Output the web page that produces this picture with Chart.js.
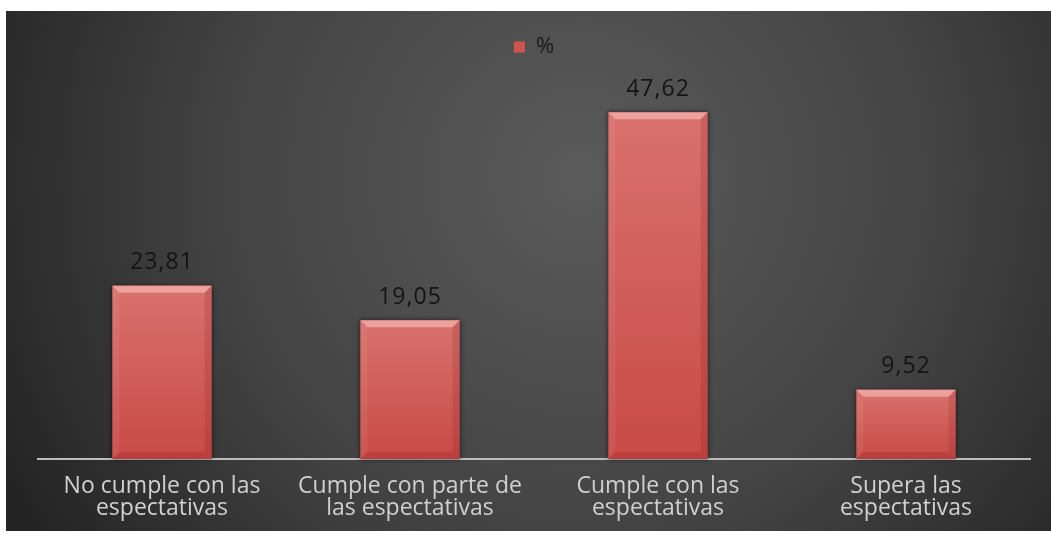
<!DOCTYPE html>
<html>
<head>
<meta charset="utf-8">
<script src="https://cdn.jsdelivr.net/npm/chart.js@4"></script>
<style>
    html, body { margin: 0; padding: 0; background: #ffffff; }
    #wrap { position: absolute; left: 6px; top: 11px; width: 1045px; height: 520px; }
</style>
</head>
<body>
<div id="wrap"><canvas id="barChart"></canvas></div>
<script>
    const categories = [
        ['No cumple con las', 'espectativas'],
        ['Cumple con parte de', 'las espectativas'],
        ['Cumple con las', 'espectativas'],
        ['Supera las', 'espectativas']
    ];
    const percentValues = [23.81, 19.05, 47.62, 9.52];
    const seriesName = '%';

    const fontFamily = "'Open Sans', Lato, sans-serif";

    // Dark radial backdrop behind the whole chart
    const backdrop = {
        id: 'backdrop',
        beforeDraw(chart) {
            const ctx = chart.ctx;
            const w = chart.width, h = chart.height;
            const g = ctx.createRadialGradient(w * 0.55, h * 0.32, 10, w * 0.55, h * 0.32, w * 0.62);
            g.addColorStop(0, '#5a5a5a');
            g.addColorStop(0.55, '#434343');
            g.addColorStop(1, '#242424');
            ctx.save();
            ctx.fillStyle = g;
            ctx.fillRect(0, 0, w, h);
            ctx.restore();
        }
    };

    // Bevelled look on each bar plus the value above it
    const bevelBars = {
        id: 'bevelBars',
        afterDatasetsDraw(chart) {
            const ctx = chart.ctx;
            const meta = chart.getDatasetMeta(0);
            meta.data.forEach(function (bar, i) {
                const left = bar.x - bar.width / 2;
                const right = bar.x + bar.width / 2;
                const top = bar.y;
                const bottom = bar.base;
                const b = 7;
                ctx.save();

                // shadow outline
                ctx.shadowColor = 'rgba(0,0,0,0.6)';
                ctx.shadowBlur = 5;
                const g = ctx.createLinearGradient(0, top, 0, bottom);
                g.addColorStop(0, '#d9716d');
                g.addColorStop(1, '#c84a47');
                ctx.fillStyle = g;
                ctx.fillRect(left, top, right - left, bottom - top);
                ctx.shadowBlur = 0;
                ctx.shadowColor = 'transparent';

                // top bevel
                ctx.fillStyle = 'rgba(255,210,205,0.5)';
                ctx.beginPath();
                ctx.moveTo(left, top);
                ctx.lineTo(right, top);
                ctx.lineTo(right - b, top + b);
                ctx.lineTo(left + b, top + b);
                ctx.closePath();
                ctx.fill();

                // side bevels
                ctx.fillStyle = 'rgba(255,255,255,0.06)';
                ctx.beginPath();
                ctx.moveTo(left, top);
                ctx.lineTo(left + b, top + b);
                ctx.lineTo(left + b, bottom - b);
                ctx.lineTo(left, bottom);
                ctx.closePath();
                ctx.fill();
                ctx.fillStyle = 'rgba(90,0,0,0.12)';
                ctx.beginPath();
                ctx.moveTo(right, top);
                ctx.lineTo(right - b, top + b);
                ctx.lineTo(right - b, bottom - b);
                ctx.lineTo(right, bottom);
                ctx.closePath();
                ctx.fill();

                // bottom bevel
                ctx.fillStyle = 'rgba(120,10,10,0.18)';
                ctx.beginPath();
                ctx.moveTo(left, bottom);
                ctx.lineTo(right, bottom);
                ctx.lineTo(right - b, bottom - b);
                ctx.lineTo(left + b, bottom - b);
                ctx.closePath();
                ctx.fill();

                // value label
                ctx.fillStyle = '#141414';
                ctx.font = '23px ' + fontFamily;
                ctx.letterSpacing = '1px';
                ctx.textAlign = 'center';
                ctx.textBaseline = 'middle';
                const txt = percentValues[i].toFixed(2).replace('.', ',');
                ctx.fillText(txt, bar.x, top - 23);
                ctx.restore();
            });
        }
    };

    // Extra room below the legend
    const legendGap = {
        id: 'legendGap',
        beforeInit(chart) {
            const fit = chart.legend.fit;
            chart.legend.fit = function () {
                fit.bind(chart.legend)();
                this.height += 27;
            };
        }
    };

    const ctx = document.getElementById('barChart').getContext('2d');
    const barChart = new Chart(ctx, {
        type: 'bar',
        data: {
            labels: categories,
            datasets: [{
                label: seriesName,
                data: percentValues,
                backgroundColor: '#d2524f',
                borderWidth: 0,
                barPercentage: 0.5,
                categoryPercentage: 0.8
            }]
        },
        options: {
            responsive: true,
            maintainAspectRatio: false,
            animation: false,
            layout: {
                padding: { top: 15, left: 32, right: 21, bottom: 0 }
            },
            plugins: {
                legend: {
                    position: 'top',
                    labels: {
                        boxWidth: 11,
                        boxHeight: 11,
                        padding: 10,
                        color: '#1a1a1a',
                        font: { family: fontFamily, size: 22 }
                    }
                },
                tooltip: { enabled: false }
            },
            scales: {
                x: {
                    grid: { display: false, drawTicks: false },
                    border: { display: true, color: '#bdbdbd', width: 2 },
                    ticks: {
                        color: '#d0d0d0',
                        padding: 17,
                        font: { family: fontFamily, size: 23, lineHeight: 0.95 },
                        maxRotation: 0,
                        autoSkip: false
                    },
                    afterFit(scale) {
                        scale.height = 72;
                    }
                },
                y: {
                    display: false,
                    min: 0,
                    max: 50
                }
            }
        },
        plugins: [backdrop, bevelBars, legendGap]
    });
</script>
</body>
</html>
